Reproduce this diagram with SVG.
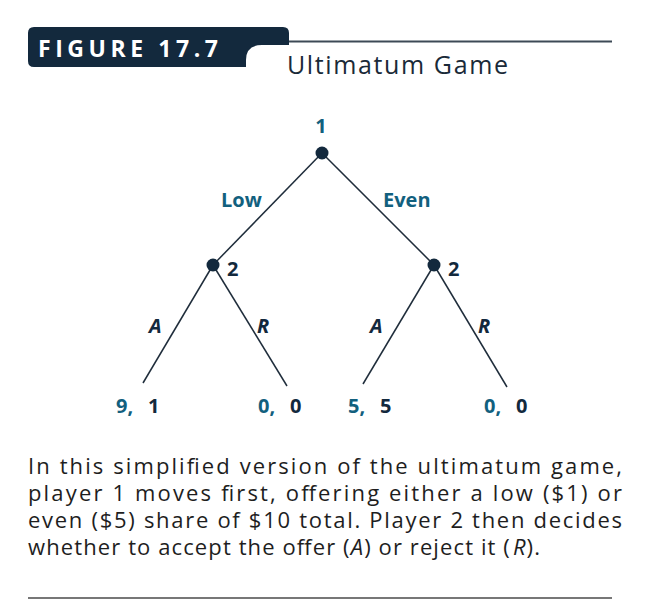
<svg xmlns="http://www.w3.org/2000/svg" width="650" height="616" viewBox="0 0 650 616">
<style>
.lab{font-family:"Open Sans","Liberation Sans",sans-serif;font-weight:700;font-size:20px}
.teal{fill:#12607e}
.navy{fill:#13293d}
.it{font-style:italic}
.body{font-family:"Open Sans","Liberation Sans",sans-serif;font-size:22px;fill:#1e1e1e}
.edge{stroke:#1f2d3b;stroke-width:1.5;fill:none}
.node{fill:#13293d}
</style>
<rect width="650" height="616" fill="#fff"/>
<g id="header">
<path d="M28,33 Q28,27 34,27 H283 Q289,27 289,33 V45 H262 Q246,45 246,60 V67 H34 Q28,67 28,61 Z" fill="#13293d"/>
<line x1="289" y1="41.5" x2="612" y2="41.5" stroke="#3d4a56" stroke-width="2"/>
<text x="38" y="57" font-family="Open Sans, Liberation Sans, sans-serif" font-weight="700" font-size="23" fill="#fff" textLength="180" lengthAdjust="spacing">FIGURE 17.7</text>
<text x="287" y="74" font-family="Open Sans, Liberation Sans, sans-serif" font-size="25" fill="#1a2a38" textLength="221" lengthAdjust="spacing">Ultimatum Game</text>
</g>
<g id="connectors">
<line class="edge" x1="322" y1="153" x2="213" y2="265"/>
<line class="edge" x1="322" y1="153" x2="434" y2="265"/>
<line class="edge" x1="213" y1="265" x2="143" y2="383"/>
<line class="edge" x1="213" y1="265" x2="287" y2="386"/>
<line class="edge" x1="434" y1="265" x2="363" y2="384"/>
<line class="edge" x1="434" y1="265" x2="507" y2="387"/>
<text class="lab teal" x="221" y="207">Low</text>
<text class="lab teal" x="383" y="207">Even</text>
<text class="lab navy it" x="149" y="333">A</text>
<text class="lab navy it" x="257" y="333">R</text>
<text class="lab navy it" x="370" y="333">A</text>
<text class="lab navy it" x="478" y="333">R</text>
</g>
<g id="node-root">
<circle class="node" cx="322" cy="153" r="6.5"/>
<text class="lab teal" x="321" y="133" text-anchor="middle">1</text>
</g>
<g id="node-left">
<circle class="node" cx="213" cy="265" r="6.5"/>
<text class="lab navy" x="227" y="276">2</text>
</g>
<g id="node-right">
<circle class="node" cx="434" cy="265" r="6.5"/>
<text class="lab navy" x="448" y="276">2</text>
</g>
<g id="leaf-LA"><text class="lab" y="413"><tspan class="teal" x="116">9,</tspan><tspan class="navy" x="148">1</tspan></text></g>
<g id="leaf-LR"><text class="lab" y="413"><tspan class="teal" x="258">0,</tspan><tspan class="navy" x="290">0</tspan></text></g>
<g id="leaf-EA"><text class="lab" y="413"><tspan class="teal" x="348">5,</tspan><tspan class="navy" x="380">5</tspan></text></g>
<g id="leaf-ER"><text class="lab" y="413"><tspan class="teal" x="484">0,</tspan><tspan class="navy" x="516">0</tspan></text></g>
<g id="caption">
<text class="body" x="28" y="474" textLength="594" lengthAdjust="spacing">In this simplified version of the ultimatum game,</text>
<text class="body" x="28" y="501" textLength="594" lengthAdjust="spacing">player 1 moves first, offering either a low ($1) or</text>
<text class="body" x="28" y="528" textLength="594" lengthAdjust="spacing">even ($5) share of $10 total. Player 2 then decides</text>
<text class="body" x="28" y="555" textLength="512" lengthAdjust="spacing">whether to accept the offer (<tspan font-style="italic">A</tspan>) or reject it (<tspan font-style="italic" dx="2">R</tspan>).</text>
<line x1="28" y1="598" x2="612" y2="598" stroke="#4a4a4a" stroke-width="1.5"/>
</g>
</svg>
